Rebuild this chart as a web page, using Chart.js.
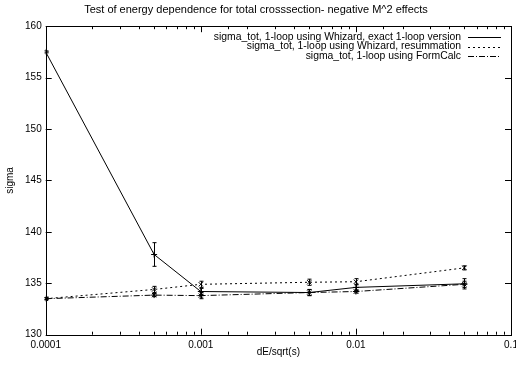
<!DOCTYPE html>
<html>
<head>
<meta charset="utf-8">
<script src="https://cdn.jsdelivr.net/npm/chart.js@4/dist/chart.umd.min.js"></script>
<style>
  html, body { margin: 0; padding: 0; background: #fff; }
  #wrap { width: 516px; height: 367px; }
</style>
</head>
<body>
<div id="wrap"><canvas id="myChart" width="516" height="367"></canvas></div>
<script>
// values
const energies = [0.0001, 0.0005, 0.001, 0.005, 0.01, 0.05]
const exactVals = [157.5, 137.8, 134.2, 134.1, 134.6, 134.95]
const exactErr = [0.1, 1.15, 0.3, 0.3, 0.3, 0.5]
const resumVals = [133.5, 134.4, 134.9, 135.1, 135.15, 136.5]
const resumErr = [0.1, 0.3, 0.3, 0.3, 0.3, 0.2]
const formcalcVals = [133.5, 133.85, 133.8, 134.1, 134.2, 134.9]
const formcalcErr = [0.1, 0.15, 0.3, 0.3, 0.15, 0.3]
const seriesNames = [
	'sigma_tot, 1-loop using Whizard, exact 1-loop version',
	'sigma_tot, 1-loop using Whizard, resummation',
	'sigma_tot, 1-loop using FormCalc',
]
const xTickLabels = ['0.0001', '0.001', '0.01', '0.1']

const FONT = 'Liberation Sans, Arial, Helvetica, sans-serif'
Chart.defaults.font.family = FONT
Chart.defaults.font.size = 10
Chart.defaults.color = '#000'

const toPoints = (vals) => vals.map((v, i) => ({ x: energies[i], y: v }))

const isPow10 = (v) => Math.abs(Math.log10(v) - Math.round(Math.log10(v))) < 1e-9

function makeSet(label, vals, errs, dash, pointStyle) {
	return {
		label,
		data: toPoints(vals),
		errors: errs,
		borderColor: '#000',
		backgroundColor: '#000',
		borderWidth: 1,
		borderDash: dash,
		pointStyle,
		pointRadius: 3,
		pointBorderWidth: 1,
		pointBorderColor: '#000',
		tension: 0,
	}
}

// inward ticks, frame, error bars and legend the way gnuplot does it
const gnuplotLook = {
	id: 'gnuplotLook',
	afterDatasetsDraw(chart) {
		const ctx = chart.ctx
		const area = chart.chartArea
		const xs = chart.scales.x
		const ys = chart.scales.y
		ctx.save()
		ctx.strokeStyle = '#000'
		ctx.lineWidth = 1
		ctx.setLineDash([])

		// error bars
		chart.data.datasets.forEach((ds) => {
			ds.data.forEach((p, i) => {
				const e = ds.errors[i]
				const px = Math.round(xs.getPixelForValue(p.x)) + 0.5
				const y1 = ys.getPixelForValue(p.y - e)
				const y2 = ys.getPixelForValue(p.y + e)
				ctx.beginPath()
				ctx.moveTo(px, y1)
				ctx.lineTo(px, y2)
				ctx.moveTo(px - 2, y1)
				ctx.lineTo(px + 2, y1)
				ctx.moveTo(px - 2, y2)
				ctx.lineTo(px + 2, y2)
				ctx.stroke()
			})
		})

		// frame
		ctx.strokeRect(Math.round(area.left) + 0.5, Math.round(area.top) + 0.5,
			Math.round(area.right - area.left), Math.round(area.bottom - area.top))

		// x ticks
		xs.ticks.forEach((t) => {
			const px = Math.round(xs.getPixelForValue(t.value)) + 0.5
			const len = isPow10(t.value) ? 6 : 3
			ctx.beginPath()
			ctx.moveTo(px, area.bottom)
			ctx.lineTo(px, area.bottom - len)
			ctx.moveTo(px, area.top)
			ctx.lineTo(px, area.top + len)
			ctx.stroke()
		})
		// y ticks
		ys.ticks.forEach((t) => {
			const py = Math.round(ys.getPixelForValue(t.value)) + 0.5
			ctx.beginPath()
			ctx.moveTo(area.left, py)
			ctx.lineTo(area.left + 6, py)
			ctx.moveTo(area.right, py)
			ctx.lineTo(area.right - 6, py)
			ctx.stroke()
		})

		// legend, text right aligned with sample line after it
		ctx.font = '10.4px ' + FONT
		ctx.fillStyle = '#000'
		ctx.textAlign = 'right'
		ctx.textBaseline = 'middle'
		chart.data.datasets.forEach((ds, i) => {
			const y = 37 + i * 9.5
			ctx.fillText(ds.label, 461, y)
			ctx.setLineDash(ds.borderDash)
			ctx.beginPath()
			ctx.moveTo(468, Math.round(y) + 0.5)
			ctx.lineTo(501, Math.round(y) + 0.5)
			ctx.stroke()
		})
		ctx.restore()
	},
}

const chartConfig = {
	type: 'line',
	data: {
		datasets: [
			makeSet(seriesNames[0], exactVals, exactErr, [], 'cross'),
			makeSet(seriesNames[1], resumVals, resumErr, [2, 3], 'crossRot'),
			makeSet(seriesNames[2], formcalcVals, formcalcErr, [6, 2, 1, 2], 'star'),
		],
	},
	options: {
		responsive: false,
		animation: false,
		layout: { padding: { top: 0, right: 4, left: 0, bottom: 0 } },
		plugins: {
			legend: { display: false },
			tooltip: { enabled: false },
			title: {
				display: true,
				text: 'Test of energy dependence for total crosssection- negative M^2 effects',
				font: { size: 11, weight: 'normal' },
				padding: { top: 3, bottom: 10 },
			},
		},
		scales: {
			x: {
				type: 'logarithmic',
				min: 0.0001,
				max: 0.1,
				grid: { display: false, drawTicks: false },
				border: { display: false },
				ticks: {
					autoSkip: false,
					maxRotation: 0,
					padding: 5,
					callback: (v) => (isPow10(v) ? xTickLabels[Math.round(Math.log10(v)) + 4] : ''),
				},
				title: { display: true, text: 'dE/sqrt(s)', padding: { top: 0, bottom: 9 } },
				afterFit: (s) => {
					s.height = 32.3
					s.paddingLeft = 0
					s.paddingRight = 0
				},
			},
			y: {
				min: 130,
				max: 160,
				grid: { display: false, drawTicks: false },
				border: { display: false },
				ticks: { stepSize: 5, padding: 4 },
				title: { display: true, text: 'sigma', padding: { top: 4, bottom: 0 } },
				afterFit: (s) => { s.width = 45.7 },
			},
		},
	},
	plugins: [gnuplotLook],
}

window.onload = function () {
	const ctx = document.getElementById('myChart').getContext('2d')
	new Chart(ctx, chartConfig)
}
</script>
</body>
</html>
